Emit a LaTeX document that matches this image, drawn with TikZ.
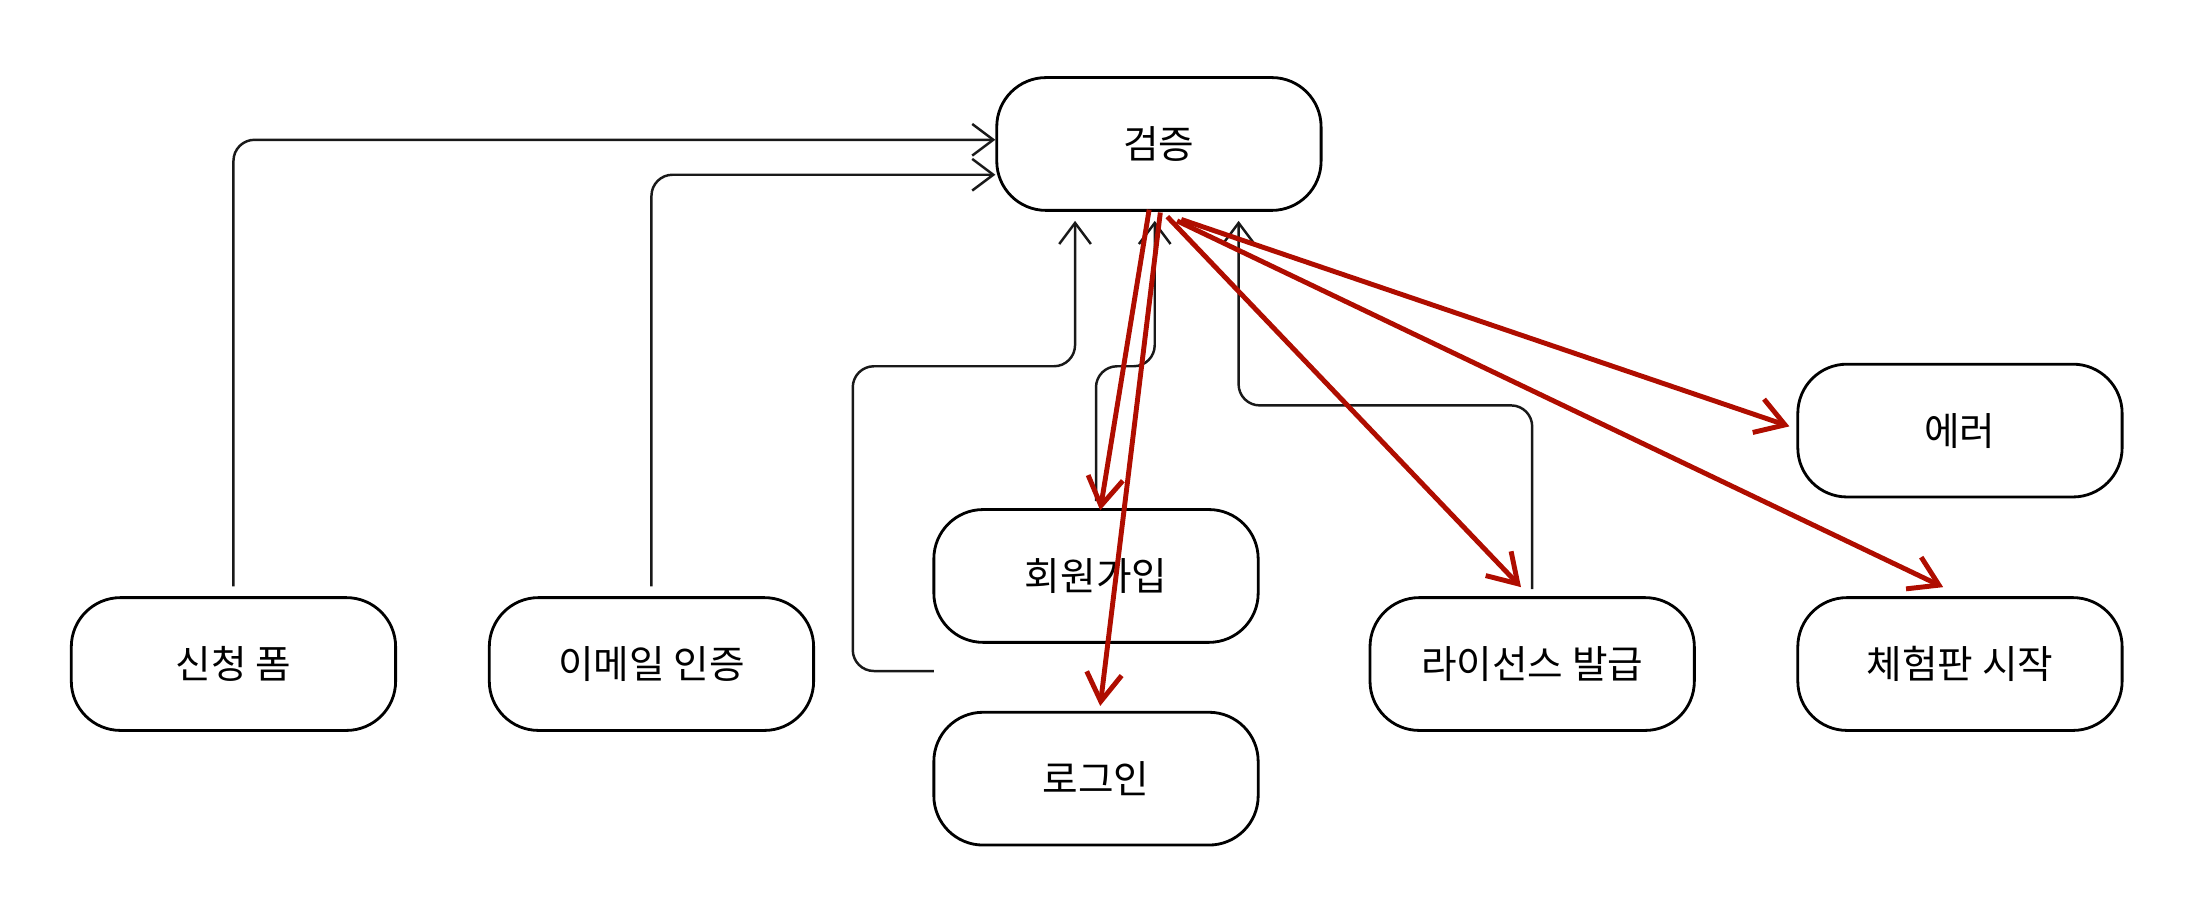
\documentclass[tikz,border=0pt]{standalone}
\usepackage{fontspec}
\newfontfamily\kr{Noto Sans CJK KR}
\usetikzlibrary{arrows.meta,positioning}

\begin{document}
\begin{tikzpicture}[
x=0.01398cm, y=-0.01398cm,
box/.style={
  draw,
  rounded corners=14pt,
  line width=0.8pt,
  minimum width=232*0.01398cm,
  minimum height=95*0.01398cm,
  font=\kr\fontsize{11}{13}\selectfont
  },
flow/.style={
  draw=black!90,
  line width=0.7pt,
  rounded corners=6pt,
  -{Straight Barb[length=6pt,width=9pt]}
  },
hit/.style={
  draw=red!65!black!90!orange,
  line width=1.4pt,
  -{Straight Barb[length=8pt,width=10pt]}
  }
]
\useasboundingbox (0,0) rectangle (1568,650);

\node[box] (check) at (829,103) {검증};
\node[box] (form) at (167,475) {신청 폼};
\node[box] (mail) at (466,475) {이메일 인증};
\node[box] (join) at (784,412) {회원가입};
\node[box] (login) at (784,557) {로그인};
\node[box] (lic) at (1096,475) {라이선스 발급};
\node[box] (err) at (1402,308) {에러};
\node[box] (trial) at (1402,475) {체험판 시작};

\coordinate (gap) at (668,480);

% inputs
\draw[flow] (form.north) ++(0,-7) |- ([yshift=3*0.01398cm]check.west);
\draw[flow] (mail.north) ++(0,-7) |- ([yshift=-22*0.01398cm]check.west);
\draw[flow] (gap) -- (610,480) -- (610,262) -- (769,262) -- (769,158);
\draw[flow] (join.north) ++(0,-5) -- (784,262) -- (826,262) -- (826,158);
\draw[flow] (lic.north) ++(0,-5) -- (1096,290) -- (886,290) -- (886,158);

% results
\draw[hit] (822,150) -- (787,365);
\draw[hit] (830,152) -- (787,505);
\draw[hit] (835,155) -- (1088,420);
\draw[hit] (845,157) -- (1280,305);
\draw[hit] (842,158) -- (1390,420);
\end{tikzpicture}
\end{document}
